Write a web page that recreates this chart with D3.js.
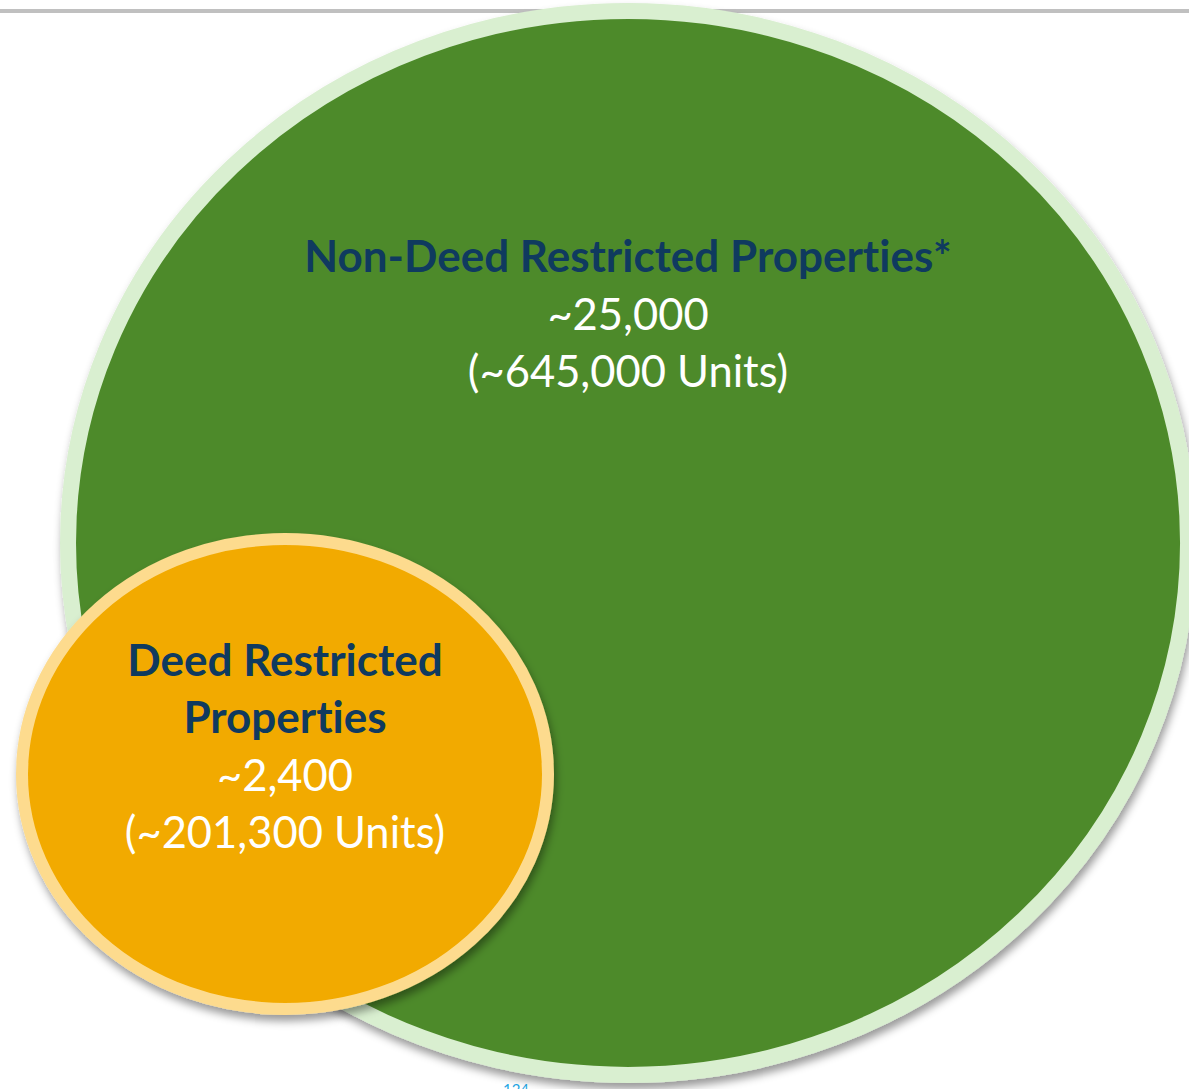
<!DOCTYPE html>
<html>
<head>
<meta charset="utf-8">
<script src="https://cdn.jsdelivr.net/npm/d3@7"></script>
<style>
  html, body { margin: 0; padding: 0; background: #fff; }
  svg { display: block; }
  text { font-family: Lato, "Open Sans", sans-serif; font-variant-ligatures: none; }
</style>
</head>
<body>
<div id="chart"></div>
<script>
// Groups of properties, drawn as two overlapping ellipses
var groups = ["Non-Deed Restricted Properties*", "Deed Restricted Properties"];
var titleLines = [["Non-Deed Restricted Properties*"], ["Deed Restricted", "Properties"]];
var propertyCounts = ["~25,000", "~2,400"];
var unitCounts = ["(~645,000 Units)", "(~201,300 Units)"];
var pageLabel = "124";

var width = 1189, height = 1089;

// layout in unit space, mapped to pixels through scales
var x = d3.scaleLinear().domain([0, 1]).range([0, width]);
var y = d3.scaleLinear().domain([0, 1]).range([0, height]);

var shapes = [
  {cx: 0.5282, cy: 0.4986, rx: 0.4710, ry: 0.4885, fill: "#4e8a2b", ring: "#d9efd0", ringW: 16, textY: 0.2498},
  {cx: 0.2397, cy: 0.7107, rx: 0.2212, ry: 0.2158, fill: "#f2aa00", ring: "#fddb8e", ringW: 12, textY: 0.6207}
];

var svg = d3.select("#chart").append("svg")
    .attr("width", width)
    .attr("height", height);

var defs = svg.append("defs");
var f = defs.append("filter")
    .attr("id", "shadow")
    .attr("x", "-10%").attr("y", "-10%")
    .attr("width", "120%").attr("height", "120%");
f.append("feDropShadow")
    .attr("dx", 2).attr("dy", 6)
    .attr("stdDeviation", 4)
    .attr("flood-color", "#000")
    .attr("flood-opacity", 0.4);

// top rule
svg.append("rect")
    .attr("x", 0).attr("y", 9)
    .attr("width", width).attr("height", 4)
    .attr("fill", "#c0c0c0");

// page number, mostly cut off at the bottom like the source slide
svg.append("text")
    .attr("x", 516).attr("y", 1095)
    .attr("text-anchor", "middle")
    .attr("font-size", 15)
    .attr("fill", "#1fa8e6")
    .text(pageLabel);

var g = svg.selectAll(".group")
    .data(groups)
  .enter().append("g")
    .attr("class", "group");

g.append("ellipse")
    .attr("cx", function(d, i) { return x(shapes[i].cx); })
    .attr("cy", function(d, i) { return y(shapes[i].cy); })
    .attr("rx", function(d, i) { return x(shapes[i].rx); })
    .attr("ry", function(d, i) { return y(shapes[i].ry); })
    .attr("fill", function(d, i) { return shapes[i].fill; })
    .attr("stroke", function(d, i) { return shapes[i].ring; })
    .attr("stroke-width", function(d, i) { return shapes[i].ringW; })
    .attr("filter", "url(#shadow)");

var lineH = 57.5;

g.each(function(d, i) {
  var el = d3.select(this);
  var cx = x(shapes[i].cx);
  var y0 = y(shapes[i].textY);
  var lines = titleLines[i].map(function(t) { return {t: t, bold: true}; })
    .concat([{t: propertyCounts[i], bold: false}, {t: unitCounts[i], bold: false}]);
  el.selectAll(".lbl")
      .data(lines)
    .enter().append("text")
      .attr("class", "lbl")
      .attr("x", cx)
      .attr("y", function(l, j) { return y0 + j * lineH; })
      .attr("text-anchor", "middle")
      .attr("font-size", function(l) { return l.bold ? 44 : 43.5; })
      .attr("font-weight", function(l) { return l.bold ? 700 : 400; })
      .attr("fill", function(l) { return l.bold ? "#0f3a5f" : "#ffffff"; })
      .text(function(l) { return l.t; });
});
</script>
</body>
</html>
